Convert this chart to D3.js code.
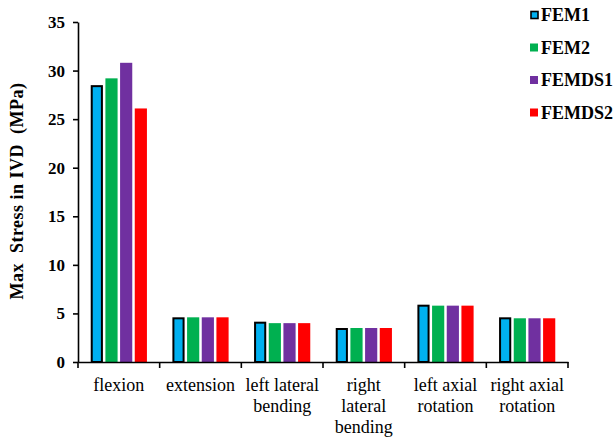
<!DOCTYPE html>
<html>
<head>
<meta charset="utf-8">
<script src="https://cdn.jsdelivr.net/npm/d3@7"></script>
<style>
  html, body { margin: 0; padding: 0; background: #fff; }
  svg { display: block; }
  text { font-family: "Liberation Serif", "Times New Roman", serif; fill: #000; }
</style>
</head>
<body>
<svg id="chart" width="616" height="437"></svg>
<script>
const categories = ["flexion", "extension", "left lateral bending", "right lateral bending", "left axial rotation", "right axial rotation"];
const categoryLines = [["flexion"], ["extension"], ["left lateral", "bending"], ["right", "lateral", "bending"], ["left axial", "rotation"], ["right axial", "rotation"]];
const seriesNames = ["FEM1", "FEM2", "FEMDS1", "FEMDS2"];
const seriesColors = ["#00B0F0", "#00B050", "#7030A0", "#FF0000"];
const FEM1 = [28.5, 4.6, 4.15, 3.5, 5.9, 4.6];
const FEM2 = [29.2, 4.6, 4.0, 3.5, 5.8, 4.5];
const FEMDS1 = [30.8, 4.6, 4.0, 3.5, 5.8, 4.5];
const FEMDS2 = [26.1, 4.6, 4.0, 3.5, 5.8, 4.5];
const seriesValues = [FEM1, FEM2, FEMDS1, FEMDS2];
const yTicks = [0, 5, 10, 15, 20, 25, 30, 35];

const svg = d3.select("#chart");
const mLeft = 78, mRight = 568, mTop = 22, mBottom = 362;

const x0 = d3.scaleBand().domain(categories).range([mLeft, mRight]).paddingInner(0).paddingOuter(0);
const bw = x0.bandwidth();
const x1 = d3.scaleBand().domain(seriesNames).range([12, bw - 12]).paddingInner(0.17).paddingOuter(0.05);
const y = d3.scaleLinear().domain([0, 35]).range([mBottom, mTop]);

// bars
const g = svg.append("g");
categories.forEach((c, ci) => {
  seriesNames.forEach((s, si) => {
    const v = seriesValues[si][ci];
    const isFirst = si === 0;
    g.append("rect")
      .attr("x", x0(c) + x1(s) + (isFirst ? 1 : 0))
      .attr("y", y(v) + (isFirst ? 1 : 0))
      .attr("width", x1.bandwidth() - (isFirst ? 2 : 0))
      .attr("height", mBottom - y(v) - (isFirst ? 1 : 0))
      .attr("fill", seriesColors[si])
      .attr("stroke", isFirst ? "#000" : "none")
      .attr("stroke-width", isFirst ? 2 : 0);
  });
});

// y axis
const yAxis = d3.axisLeft(y).tickValues(yTicks).tickSize(5).tickSizeOuter(0).tickPadding(8);
const ya = svg.append("g").attr("transform", `translate(${mLeft},0)`).call(yAxis);
ya.attr("font-family", null);
ya.select(".domain").attr("stroke", "#000").attr("stroke-width", 1.6);
ya.selectAll(".tick line").attr("stroke", "#000").attr("stroke-width", 1.6);
ya.selectAll(".tick text")
  .style("font-family", '"Liberation Serif", "Times New Roman", serif')
  .style("font-size", "17px").style("font-weight", "bold").attr("fill", "#000");

// x axis
const xAxis = d3.axisBottom(x0).tickValues([]).tickSizeOuter(0);
const xa = svg.append("g").attr("transform", `translate(0,${mBottom})`).call(xAxis);
xa.select(".domain").attr("stroke", "#000").attr("stroke-width", 1.6);
const bounds = categories.map(c => x0(c)).concat([mRight]);
xa.selectAll(".sep").data(bounds).enter().append("line")
  .attr("x1", d => d).attr("x2", d => d).attr("y1", 0).attr("y2", 6)
  .attr("stroke", "#000").attr("stroke-width", 1.6);

// category labels
categories.forEach((c, ci) => {
  const cx = x0(c) + bw / 2;
  const t = svg.append("text").attr("text-anchor", "middle").style("font-size", "18px");
  categoryLines[ci].forEach((ln, li) => {
    t.append("tspan").attr("x", cx).attr("y", 391 + li * 21).text(ln);
  });
});

// y title
svg.append("text")
  .attr("transform", `translate(23,${191}) rotate(-90)`)
  .attr("text-anchor", "middle")
  .style("font-size", "18px").style("font-weight", "bold")
  .style("letter-spacing", "0.5px")
  .style("white-space", "pre")
  .text("Max  Stress in IVD  (MPa)");

// legend
const leg = svg.append("g");
seriesNames.forEach((s, si) => {
  const cy = 15 + si * 32.5;
  leg.append("rect")
    .attr("x", si === 0 ? 531 : 530).attr("y", cy - (si === 0 ? 3.5 : 4))
    .attr("width", si === 0 ? 7 : 8).attr("height", si === 0 ? 7 : 8)
    .attr("fill", seriesColors[si])
    .attr("stroke", si === 0 ? "#000" : "none").attr("stroke-width", si === 0 ? 1.6 : 0);
  leg.append("text").attr("x", 541).attr("y", cy + 6)
    .style("font-size", "18px").style("font-weight", "bold").text(s);
});
</script>
</body>
</html>
